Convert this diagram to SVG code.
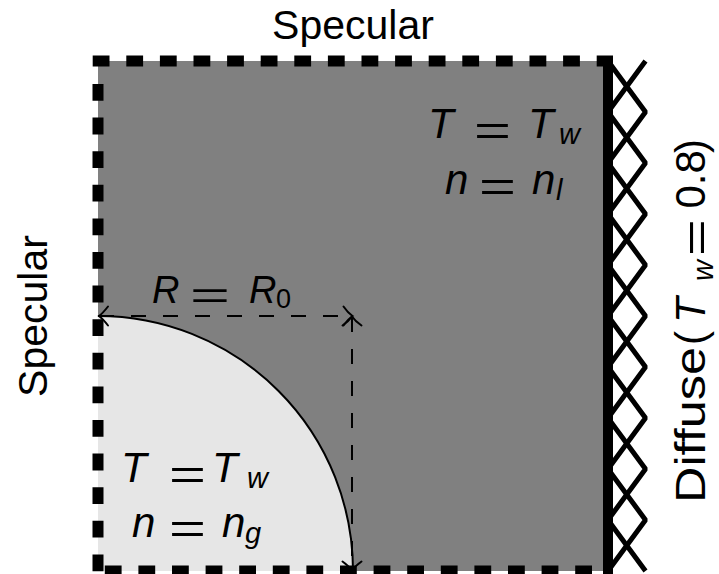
<svg xmlns="http://www.w3.org/2000/svg" width="719" height="574" viewBox="0 0 719 574">
<style>
text{font-family:"Liberation Sans",Arial,sans-serif;fill:#000}
.lbl{font-size:41px}
.m{font-size:42px;font-style:italic}
.mr{font-size:42px}
.sub{font-size:29px;font-style:italic}
.bd{stroke:#000;stroke-width:11;stroke-dasharray:16.8 16.8;fill:none}
.dim{stroke:#000;stroke-width:2;stroke-dasharray:15 17;fill:none}
.ah{stroke:#000;stroke-width:2;fill:none;stroke-linecap:round}
.zz{stroke:#000;stroke-width:5;fill:none;stroke-linejoin:bevel}
</style>
<rect id="domain" x="98" y="61" width="510" height="510" fill="#808080"/>
<g id="bubble">
<path d="M98,316 A255,255 0 0 1 353,571 L98,571 Z" fill="#e6e6e6"/>
<path d="M98,316 A255,255 0 0 1 353,571" fill="none" stroke="#000" stroke-width="2"/>
</g>
<g id="connectors">
<line class="dim" x1="99" y1="316" x2="352" y2="316"/>
<line class="dim" x1="352" y1="317" x2="352" y2="570"/>
<path class="ah" d="M108,306.5 Q103,313 99,316 Q103,319 108,325.5"/>
<path class="ah" d="M343.5,306.5 Q348,313 352.5,316 Q348,319 343.5,325.5"/>
<path class="ah" d="M342.5,325.5 Q349,321 352,316.5 Q355,321 361.5,325.5"/>
<path class="ah" d="M342.5,561.5 Q349,566 352,571 Q355,566 361.5,561.5"/>
</g>
<g id="borders">
<line class="bd" x1="92.7" y1="61" x2="613" y2="61"/>
<line class="bd" x1="98" y1="84" x2="98" y2="580"/>
<line class="bd" x1="104.8" y1="571" x2="600" y2="571"/>
</g>
<g id="wall">
<polyline class="zz" points="608,61 645.5,112 608,163 645.5,214 608,265 645.5,316 608,367 645.5,418 608,469 645.5,520 608,571"/>
<polyline class="zz" points="645.5,61 608,112 645.5,163 608,214 645.5,265 608,316 645.5,367 608,418 645.5,469 608,520 645.5,571"/>
<line x1="608" y1="56" x2="608" y2="576" stroke="#000" stroke-width="10"/>
</g>
<g id="label-top"><text class="lbl" x="353" y="39" text-anchor="middle">Specular</text></g>
<g id="label-left"><text class="lbl" transform="translate(47,316) rotate(-90)" text-anchor="middle">Specular</text></g>
<g id="label-right" transform="translate(705,316) rotate(-90)">
<text class="mr" x="-187" y="0" textLength="156" lengthAdjust="spacingAndGlyphs">Diffuse</text>
<text class="mr" x="-29" y="0">(</text>
<text class="m" x="-7" y="0">T</text>
<text class="sub" x="35" y="8">w</text>
<text class="mr" x="60" y="6" textLength="37" lengthAdjust="spacingAndGlyphs">=</text>
<text class="mr" x="107.5" y="0">0.8</text>
<text class="mr" x="163" y="0">)</text>
</g>
<g id="liquid-label">
<text class="m" x="428" y="138">T</text>
<text class="mr" x="474" y="145" textLength="37" lengthAdjust="spacingAndGlyphs">=</text>
<text class="m" x="528" y="138">T</text>
<text class="sub" x="559" y="144">w</text>
<text class="m" x="445" y="194">n</text>
<text class="mr" x="479" y="201" textLength="37" lengthAdjust="spacingAndGlyphs">=</text>
<text class="m" x="532" y="194">n</text>
<text class="sub" x="556" y="200">l</text>
</g>
<g id="gas-label">
<text class="m" x="121" y="482">T</text>
<text class="mr" x="169" y="489" textLength="37" lengthAdjust="spacingAndGlyphs">=</text>
<text class="m" x="212" y="482">T</text>
<text class="sub" x="247" y="488">w</text>
<text class="m" x="132" y="537">n</text>
<text class="mr" x="169" y="543" textLength="37" lengthAdjust="spacingAndGlyphs">=</text>
<text class="m" x="222" y="537">n</text>
<text class="sub" x="245" y="543">g</text>
</g>
<g id="radius-label">
<text class="m" style="font-size:38px" x="152" y="303">R</text>
<text class="mr" style="font-size:38px" x="190" y="309" textLength="40" lengthAdjust="spacingAndGlyphs">=</text>
<text class="m" style="font-size:38px" x="249" y="303">R</text>
<text style="font-size:27px" x="276" y="308">0</text>
</g>
</svg>
